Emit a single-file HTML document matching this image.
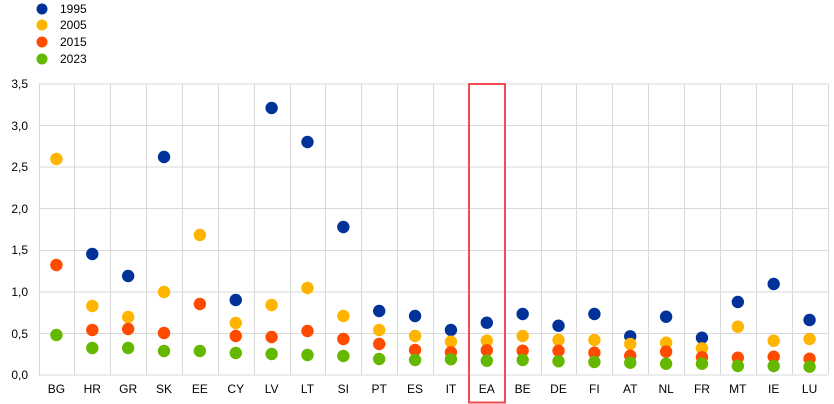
<!DOCTYPE html>
<html><head><meta charset="utf-8"><style>
html,body{margin:0;padding:0;background:#fff;}
svg{display:block;}
text{font-family:"Liberation Sans",Arial,sans-serif;font-size:12px;fill:#000;}
</style></head><body>
<svg width="834" height="404" viewBox="0 0 834 404" xmlns="http://www.w3.org/2000/svg">
<g stroke="#d9d9d9" stroke-width="1" shape-rendering="crispEdges">
<line x1="38.5" y1="84" x2="827.5" y2="84"/>
<line x1="38.5" y1="125.6" x2="827.5" y2="125.6"/>
<line x1="38.5" y1="167.1" x2="827.5" y2="167.1"/>
<line x1="38.5" y1="208.7" x2="827.5" y2="208.7"/>
<line x1="38.5" y1="250.3" x2="827.5" y2="250.3"/>
<line x1="38.5" y1="291.9" x2="827.5" y2="291.9"/>
<line x1="38.5" y1="333.4" x2="827.5" y2="333.4"/>
<line x1="38.5" y1="375" x2="827.5" y2="375"/>
</g>
<g stroke="#d9d9d9" stroke-width="1" shape-rendering="crispEdges" id="vg"></g>
<g id="labels"></g>
<g id="dots"></g>
<g>
<text x="28" y="88" text-anchor="end">3,5</text>
<text x="28" y="130" text-anchor="end">3,0</text>
<text x="28" y="171" text-anchor="end">2,5</text>
<text x="28" y="213" text-anchor="end">2,0</text>
<text x="28" y="254" text-anchor="end">1,5</text>
<text x="28" y="296" text-anchor="end">1,0</text>
<text x="28" y="338" text-anchor="end">0,5</text>
<text x="28" y="379" text-anchor="end">0,0</text>
</g>
<g>
<circle cx="42" cy="9" r="5.5" fill="#003299"/><text x="60" y="13">1995</text>
<circle cx="42" cy="25" r="5.5" fill="#ffb400"/><text x="60" y="29">2005</text>
<circle cx="42" cy="42" r="5.5" fill="#ff4b00"/><text x="60" y="46">2015</text>
<circle cx="42" cy="59" r="5.5" fill="#65b800"/><text x="60" y="63">2023</text>
</g>
<rect x="469" y="84" width="36" height="318.5" fill="none" stroke="#f24b52" stroke-width="2"/>
<script>
(function(){
var ns="http://www.w3.org/2000/svg";
var cats=["BG","HR","GR","SK","EE","CY","LV","LT","SI","PT","ES","IT","EA","BE","DE","FI","AT","NL","FR","MT","IE","LU"];
// pixel y values [1995,2005,2015,2023], null if absent
var d=[
[null,159,265,335],
[254,306,330,348],
[276,317,329,348],
[157,292,333,351],
[null,235,304,351],
[300,323,336,353],
[108,305,337,354],
[142,288,331,355],
[227,316,339,356],
[311,330,344,359],
[316,336,350,360],
[330,341.7,352.3,359.3],
[322.7,340.7,350.3,360.7],
[314,336,350.7,360],
[325.7,340,350.7,361.3],
[314,340,352.7,362],
[336.3,344,355.7,362.7],
[316.7,342.7,351.7,363.7],
[337.7,348.3,357.3,363.7],
[302,326.7,357.7,366],
[284,340.7,356.7,366],
[320,339,358.7,366.7]
];
var cols=["#003299","#ffb400","#ff4b00","#65b800"];
var w=789/22,x0=38.5;
var vg=document.getElementById("vg"),lb=document.getElementById("labels"),dg=document.getElementById("dots");
for(var i=0;i<=22;i++){var l=document.createElementNS(ns,"line");var x=Math.round(x0+i*w)+0.5;l.setAttribute("x1",x);l.setAttribute("x2",x);l.setAttribute("y1",84);l.setAttribute("y2",375);vg.appendChild(l);}
for(var i=0;i<22;i++){
 var cx=x0+w*(i+0.5);
 var t=document.createElementNS(ns,"text");t.setAttribute("x",cx);t.setAttribute("y",393);t.setAttribute("text-anchor","middle");t.textContent=cats[i];lb.appendChild(t);
 for(var s=0;s<4;s++){ if(d[i][s]==null)continue;
  var c=document.createElementNS(ns,"circle");c.setAttribute("cx",cx);c.setAttribute("cy",d[i][s]);c.setAttribute("r",6.2);c.setAttribute("fill",cols[s]);dg.appendChild(c);}
}
})();
</script>
</svg>
</body></html>
